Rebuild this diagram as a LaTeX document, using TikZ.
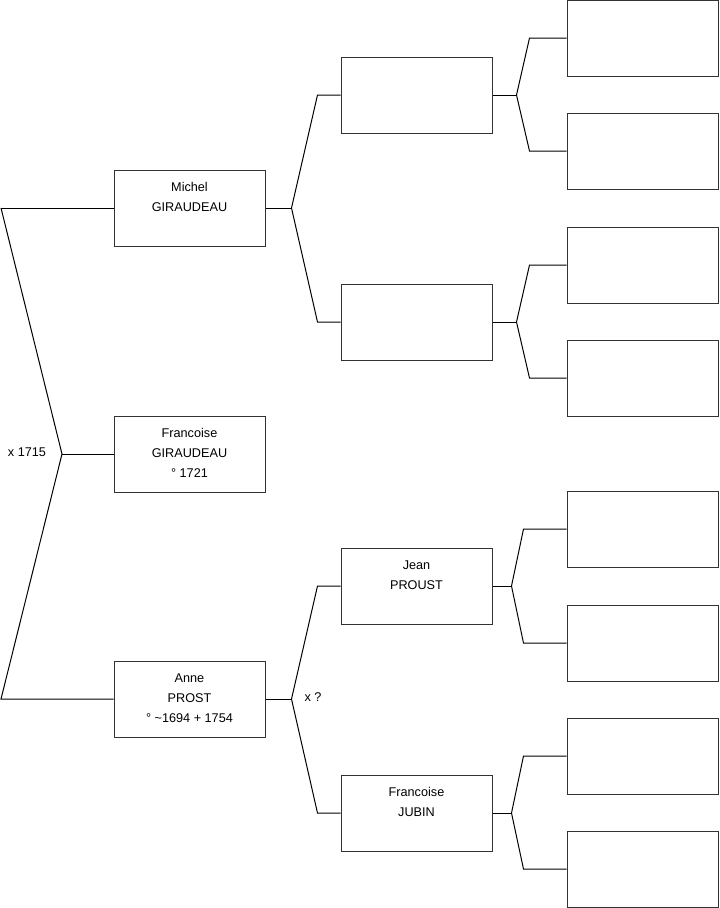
\documentclass[tikz,border=0pt]{standalone}
\usepackage{fontspec}
\setmainfont{Liberation Sans}
\usetikzlibrary{positioning}

\begin{document}
\begin{tikzpicture}[x=0.75pt,y=-0.75pt,line width=0.75pt,
  font=\fontsize{9.5}{15}\selectfont,
  pers/.style={draw=black!80,minimum width=113.25pt,minimum height=57pt,
    label={[anchor=north,align=center,yshift=-6pt]north:{#1}}},
  pers/.default={}]
  \useasboundingbox (0,0) rectangle (719,908);
  % generation 1
  \node[pers={Michel\\GIRAUDEAU}] (mich) at (189.5,208) {};
  \node[pers={Francoise\\GIRAUDEAU\\° 1721}] (fran) at (189.5,454) {};
  \node[pers={Anne\\PROST\\° \char`\~1694 + 1754}] (anne) at (189.5,699) {};
  % generation 2
  \node[pers] (ga) at (416.5,95) {};
  \node[pers] (gb) at (416.5,322) {};
  \node[pers={Jean\\PROUST}] (jean) at (416.5,586) {};
  \node[pers={Francoise\\JUBIN}] (jubi) at (416.5,813) {};
  % generation 3
  \foreach \i/\y in {1/38,2/151,3/265,4/378,5/529,6/643,7/756,8/869}
    \node[pers] (h\i) at (642.5,\y) {};
  % couple of mich and anne
  \coordinate (lt) at (1,208);
  \coordinate (lb) at (1,699);
  \coordinate (lf) at (62,454);
  \draw (lt) -- (mich.west);
  \draw (lt) -- (lf) -- (lb) -- (anne.west);
  \draw (lf) -- (fran.west);
  \node (wed1) at (27,452) {x 1715};
  % parents of mich
  \draw (mich.east) -- ++(26,0) coordinate (mf);
  \draw (mf) -- ([xshift=-17.25pt]ga.west) -- (ga.west);
  \draw (mf) -- ([xshift=-17.25pt]gb.west) -- (gb.west);
  % parents of anne
  \draw (anne.east) -- ++(26,0) coordinate (af);
  \draw (af) -- ([xshift=-17.25pt]jean.west) -- (jean.west);
  \draw (af) -- ([xshift=-17.25pt]jubi.west) -- (jubi.west);
  \node (wed2) at (313,697) {x ?};
  % grandparents
  \draw (ga.east) -- ++(24,0) coordinate (fa);
  \draw (fa) -- ([xshift=-27.75pt]h1.west) -- (h1.west);
  \draw (fa) -- ([xshift=-27.75pt]h2.west) -- (h2.west);
  \draw (gb.east) -- ++(24,0) coordinate (fb);
  \draw (fb) -- ([xshift=-27.75pt]h3.west) -- (h3.west);
  \draw (fb) -- ([xshift=-27.75pt]h4.west) -- (h4.west);
  \draw (jean.east) -- ++(19,0) coordinate (fc);
  \draw (fc) -- ([xshift=-32.25pt]h5.west) -- (h5.west);
  \draw (fc) -- ([xshift=-32.25pt]h6.west) -- (h6.west);
  \draw (jubi.east) -- ++(19,0) coordinate (fd);
  \draw (fd) -- ([xshift=-32.25pt]h7.west) -- (h7.west);
  \draw (fd) -- ([xshift=-32.25pt]h8.west) -- (h8.west);
\end{tikzpicture}
\end{document}
